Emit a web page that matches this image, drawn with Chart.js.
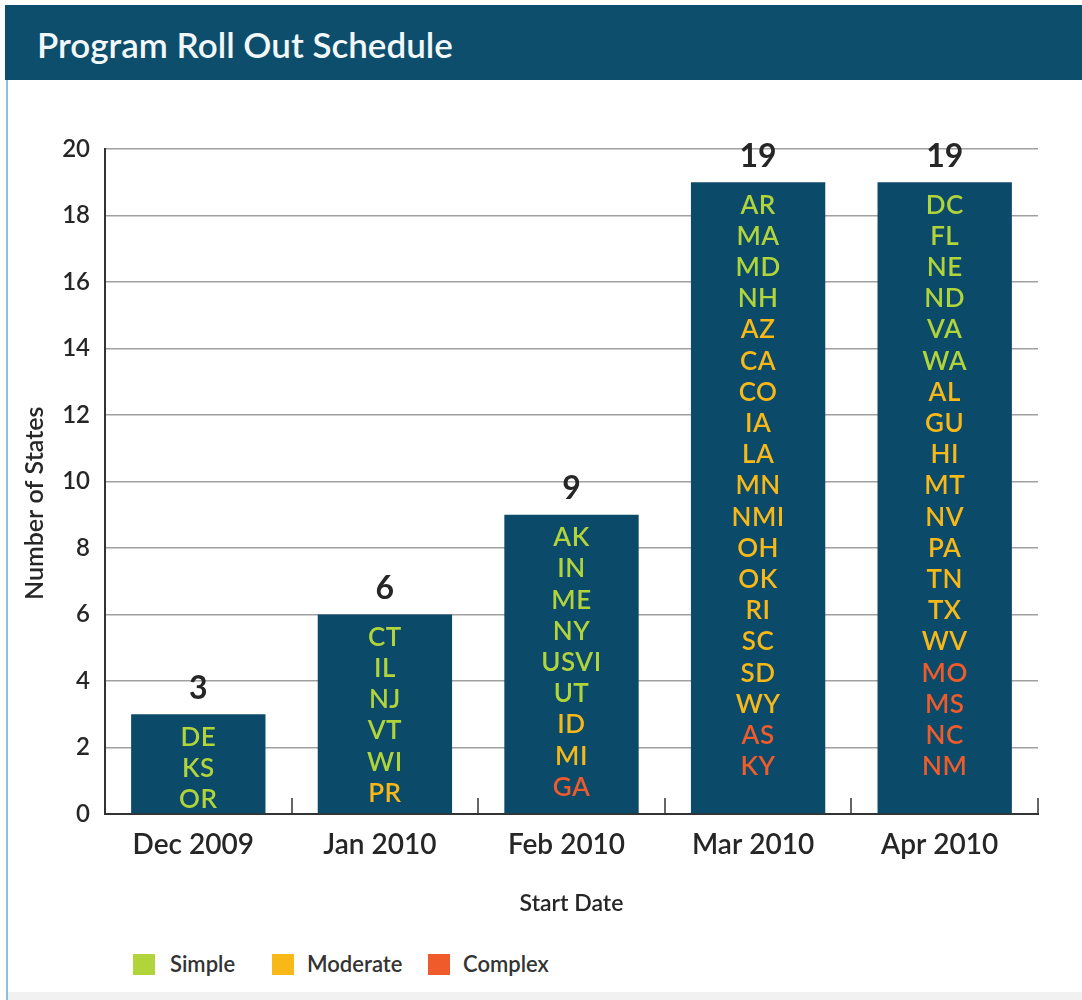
<!DOCTYPE html>
<html>
<head>
<meta charset="utf-8">
<script src="https://cdn.jsdelivr.net/npm/chart.js@4.4.0/dist/chart.umd.min.js"></script>
<style>
    body { margin: 0; background: #fff; font-family: Lato, sans-serif; }
    #page { position: relative; width: 1082px; height: 1000px; overflow: hidden; background: #fff; }
    #header {
        position: absolute; left: 5px; top: 5px; width: 1077px; height: 75px;
        background: #0c4e6c; color: #f2f8fa;
        font: 600 35px Lato, sans-serif; line-height: 78px; padding-left: 32px; box-sizing: border-box;
    }
    #leftline { position: absolute; left: 6px; top: 80px; width: 2px; height: 920px; background: #8cc0de; }
    #bottomband { position: absolute; left: 8px; top: 992px; width: 1074px; height: 8px; background: #f1f1f1; }
    #chart-wrap { position: absolute; left: 0; top: 80px; width: 1082px; height: 850px; }
    #legend { position: absolute; top: 954px; left: 0; height: 22px; font: 600 22px Lato, sans-serif; color: #333; }
    .swatch { position: absolute; top: 0; width: 22px; height: 21px; }
    .label { position: absolute; top: -1px; line-height: 22px; white-space: nowrap; }
</style>
</head>
<body>
<div id="page">
    <div id="header">Program Roll Out Schedule</div>
    <div id="leftline"></div>
    <div id="chart-wrap"><canvas id="chart-rollout"></canvas></div>
    <div id="legend"></div>
    <div id="bottomband"></div>
</div>
<script>
// Start month categories and number of states per month
const months = ['Dec 2009', 'Jan 2010', 'Feb 2010', 'Mar 2010', 'Apr 2010'];
const stateCounts = [3, 6, 9, 19, 19];

// States listed inside each bar, with complexity: S = simple, M = moderate, C = complex
const decStates = ['DE', 'KS', 'OR'];
const decLevels = ['S', 'S', 'S'];
const janStates = ['CT', 'IL', 'NJ', 'VT', 'WI', 'PR'];
const janLevels = ['S', 'S', 'S', 'S', 'S', 'M'];
const febStates = ['AK', 'IN', 'ME', 'NY', 'USVI', 'UT', 'ID', 'MI', 'GA'];
const febLevels = ['S', 'S', 'S', 'S', 'S', 'S', 'M', 'M', 'C'];
const marStates = ['AR', 'MA', 'MD', 'NH', 'AZ', 'CA', 'CO', 'IA', 'LA', 'MN', 'NMI', 'OH', 'OK', 'RI', 'SC', 'SD', 'WY', 'AS', 'KY'];
const marLevels = ['S', 'S', 'S', 'S', 'M', 'M', 'M', 'M', 'M', 'M', 'M', 'M', 'M', 'M', 'M', 'M', 'M', 'C', 'C'];
const aprStates = ['DC', 'FL', 'NE', 'ND', 'VA', 'WA', 'AL', 'GU', 'HI', 'MT', 'NV', 'PA', 'TN', 'TX', 'WV', 'MO', 'MS', 'NC', 'NM'];
const aprLevels = ['S', 'S', 'S', 'S', 'S', 'S', 'M', 'M', 'M', 'M', 'M', 'M', 'M', 'M', 'M', 'C', 'C', 'C', 'C'];

const yTicks = [0, 2, 4, 6, 8, 10, 12, 14, 16, 18, 20];
const legendNames = ['Simple', 'Moderate', 'Complex'];
const legendKeys = ['S', 'M', 'C'];

const levelColors = { S: '#b0d43a', M: '#f8b818', C: '#ef5b2b' };
const barColor = '#0b4a69';
const textColor = '#262626';

const stateLists = [decStates, janStates, febStates, marStates, aprStates];
const levelLists = [decLevels, janLevels, febLevels, marLevels, aprLevels];

// Draws state names inside bars, totals above, and the small category ticks
const barTextPlugin = {
    id: 'barText',
    afterDatasetsDraw(chart) {
        const ctx = chart.ctx;
        const meta = chart.getDatasetMeta(0);
        ctx.save();
        ctx.textAlign = 'center';
        ctx.textBaseline = 'middle';
        meta.data.forEach((bar, i) => {
            ctx.font = '600 26px Lato, sans-serif';
            ctx.letterSpacing = '0.5px';
            stateLists[i].forEach((st, j) => {
                ctx.fillStyle = levelColors[levelLists[i][j]];
                ctx.fillText(st, bar.x, bar.y + 23 + j * 31.2);
            });
            ctx.letterSpacing = '0px';
            ctx.font = 'bold 32px Lato, sans-serif';
            ctx.fillStyle = textColor;
            ctx.fillText(String(stateCounts[i]), bar.x, bar.y - 26);
        });

        // tick marks between categories, pointing up from the x axis
        const xs = chart.scales.x;
        const bottom = chart.chartArea.bottom;
        const half = (xs.getPixelForValue(1) - xs.getPixelForValue(0)) / 2;
        ctx.strokeStyle = '#333';
        ctx.lineWidth = 1.5;
        for (let i = 0; i < months.length; i++) {
            const x = Math.round(xs.getPixelForValue(i) + half);
            ctx.beginPath();
            ctx.moveTo(x, bottom);
            ctx.lineTo(x, bottom - 16);
            ctx.stroke();
        }
        ctx.restore();
    }
};

const chart = new Chart(document.getElementById('chart-rollout').getContext('2d'), {
    type: 'bar',
    data: {
        labels: months,
        datasets: [{
            label: 'Number of States',
            data: stateCounts,
            backgroundColor: barColor,
            borderWidth: 0,
            categoryPercentage: 0.72,
            barPercentage: 1.0
        }]
    },
    options: {
        responsive: true,
        maintainAspectRatio: false,
        animation: false,
        layout: { padding: { top: 69, right: 44, bottom: 0, left: 0 } },
        plugins: {
            legend: { display: false },
            tooltip: { enabled: false }
        },
        scales: {
            x: {
                afterFit: (scale) => { scale.height = 116; },
                grid: { display: false, drawTicks: false },
                border: { display: true, color: '#333', width: 2 },
                ticks: { color: textColor, font: { family: 'Lato', size: 28, weight: '600' }, padding: 14, labelOffset: -5 },
                title: { display: true, text: 'Start Date', color: textColor, font: { family: 'Lato', size: 23, weight: '600' }, padding: { bottom: 13 } }
            },
            y: {
                min: 0,
                max: 20,
                afterFit: (scale) => { scale.width = 105; },
                afterBuildTicks: (scale) => { scale.ticks = yTicks.map(v => ({ value: v })); },
                grid: { color: '#a0a0a0', lineWidth: 1.5, drawTicks: false },
                border: { display: true, color: '#333', width: 2 },
                ticks: { color: textColor, font: { family: 'Lato', size: 24, weight: '600' }, padding: 15 },
                title: {
                    display: true,
                    text: 'Number of States       ',
                    color: textColor,
                    font: { family: 'Lato', size: 25, weight: '600' },
                    padding: { top: 20 }
                }
            }
        }
    },
    plugins: [barTextPlugin]
});

// HTML legend for complexity levels
const legendEl = document.getElementById('legend');
const swatchX = [133, 272, 428];
const labelX = [170, 307, 463];
legendNames.forEach((name, i) => {
    const sw = document.createElement('div');
    sw.className = 'swatch';
    sw.style.left = swatchX[i] + 'px';
    sw.style.background = levelColors[legendKeys[i]];
    legendEl.appendChild(sw);
    const lb = document.createElement('div');
    lb.className = 'label';
    lb.style.left = labelX[i] + 'px';
    lb.textContent = name;
    legendEl.appendChild(lb);
});
</script>
</body>
</html>
